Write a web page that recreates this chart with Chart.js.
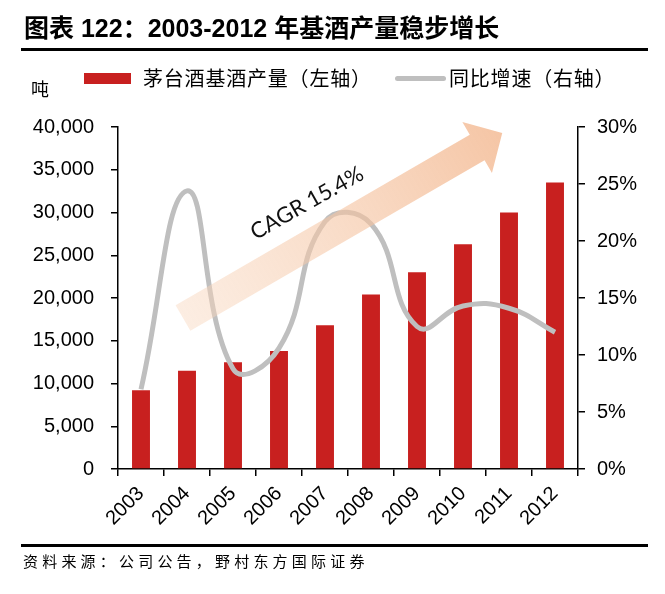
<!DOCTYPE html>
<html>
<head>
<meta charset="utf-8">
<script src="https://cdn.jsdelivr.net/npm/chart.js@4/dist/chart.umd.min.js"></script>
<style>
  body { margin:0; background:#fff; }
  #wrap { position:relative; width:665px; height:594px; overflow:hidden; }
  #c { position:absolute; left:0; top:0; }
  .t { position:absolute; white-space:nowrap; color:#000; }
  #title { left:24px; top:12px; font:bold 25px "Liberation Sans","Noto Sans CJK SC",sans-serif; line-height:32px; }
  .rule { position:absolute; left:21px; width:627px; height:3px; background:#000; }
  #unit { left:31px; top:77px; font:18px "Noto Sans CJK SC",sans-serif; line-height:22px; }
  .leg { font:20px "Noto Sans CJK SC",sans-serif; line-height:26px; top:65px; letter-spacing:0.8px; }
  #src { left:23px; top:550px; font:15px "Noto Sans CJK SC",sans-serif; line-height:22px; letter-spacing:4.2px; }
</style>
</head>
<body>
<div id="wrap">
  <canvas id="c" width="665" height="594"></canvas>
  <div class="t" id="title">图表 122：2003-2012 年基酒产量稳步增长</div>
  <div class="rule" style="top:48px"></div>
  <div class="t" id="unit">吨</div>
  <div style="position:absolute;left:84px;top:73px;width:47px;height:11px;background:#C8201F"></div>
  <div class="t leg" style="left:143px">茅台酒基酒产量（左轴）</div>
  <div style="position:absolute;left:395px;top:76px;width:51px;height:5px;border-radius:3px;background:#BFBFBF"></div>
  <div class="t leg" style="left:449px">同比增速（右轴）</div>
  <div class="rule" style="top:544px"></div>
  <div class="t" id="src">资料来源：公司公告，野村东方国际证券</div>
</div>
<script>
// 年份
const years = ['2003','2004','2005','2006','2007','2008','2009','2010','2011','2012']
// 基酒产量（吨）
const output = [9200, 11500, 12500, 13800, 16800, 20400, 23000, 26300, 30000, 33500]
// 同比增速（%）
const growth = [7.0, 24.4, 8.8, 10.6, 21.7, 21.5, 12.5, 14.3, 14.1, 12.0]
const cagrText = 'CAGR 15.4%'

const tickFont = { family: 'Liberation Sans', size: 20 }

// 斜向箭头 + CAGR 文字
const arrowPlugin = {
    id: 'arrow',
    afterDatasetsDraw(chart) {
        const ctx = chart.ctx
        const tx = 183, ty = 318
        const ang = Math.atan2(-170.8, 294.7)
        const L = 340, half = 14.75, headHalf = 29.5, headLen = 29
        ctx.save()
        ctx.translate(tx, ty)
        ctx.rotate(ang)
        const g = ctx.createLinearGradient(0, 0, L + headLen, 0)
        g.addColorStop(0, 'rgba(248,215,190,0.45)')
        g.addColorStop(1, 'rgba(242,178,135,0.75)')
        ctx.fillStyle = g
        ctx.beginPath()
        ctx.moveTo(0, -half)
        ctx.lineTo(L, -half)
        ctx.lineTo(L, -headHalf)
        ctx.lineTo(L + headLen, 0)
        ctx.lineTo(L, headHalf)
        ctx.lineTo(L, half)
        ctx.lineTo(0, half)
        ctx.closePath()
        ctx.fill()
        ctx.restore()

        ctx.save()
        ctx.translate(307, 203)
        ctx.rotate(-29.5 * Math.PI / 180)
        ctx.font = '22px Lato'
        ctx.fillStyle = '#111'
        ctx.textAlign = 'center'
        ctx.textBaseline = 'middle'
        ctx.fillText(cagrText, 0, 0)
        ctx.restore()
    }
}

const grafica = document.getElementById('c').getContext('2d')

const myChart = new Chart(grafica, {
    data: {
        labels: years,
        datasets: [
            {
                type: 'line',
                label: '同比增速（右轴）',
                data: growth,
                yAxisID: 'y2',
                borderColor: '#BFBFBF',
                borderWidth: 5,
                pointRadius: 0,
                tension: 0.45,
                fill: false,
                order: 0
            },
            {
                type: 'bar',
                label: '茅台酒基酒产量（左轴）',
                data: output,
                yAxisID: 'y',
                backgroundColor: '#C8201F',
                categoryPercentage: 1,
                barPercentage: 0.39,
                order: 1
            }
        ]
    },
    options: {
        responsive: false,
        animation: false,
        devicePixelRatio: 1,
        layout: { padding: { top: 127, bottom: 54, left: 0, right: 0 } },
        plugins: { legend: { display: false }, tooltip: { enabled: false } },
        scales: {
            x: {
                offset: true,
                grid: { offset: true, drawOnChartArea: false, drawTicks: true, tickLength: 7, color: '#000', lineWidth: 1.5 },
                border: { display: true, color: '#000', width: 1.5 },
                ticks: { font: tickFont, color: '#000', minRotation: 45, maxRotation: 45, padding: 6 },
                afterFit: (s) => { s.height = 71 }
            },
            y: {
                position: 'left',
                min: 0, max: 40000,
                grid: { drawOnChartArea: false, drawTicks: true, tickLength: 7, color: '#000', lineWidth: 1.5 },
                border: { display: true, color: '#000', width: 1.5 },
                ticks: { stepSize: 5000, font: tickFont, color: '#000', padding: 17,
                    callback: (v) => v.toLocaleString('en-US') },
                afterFit: (s) => { s.width = 118 }
            },
            y2: {
                position: 'right',
                min: 0, max: 30,
                grid: { drawOnChartArea: false, drawTicks: true, tickLength: 7, color: '#000', lineWidth: 1.5 },
                border: { display: true, color: '#000', width: 1.5 },
                ticks: { stepSize: 5, font: tickFont, color: '#000', padding: 12,
                    callback: (v) => v + '%' },
                afterFit: (s) => { s.width = 87 }
            }
        }
    },
    plugins: [arrowPlugin]
})
</script>
</body>
</html>
